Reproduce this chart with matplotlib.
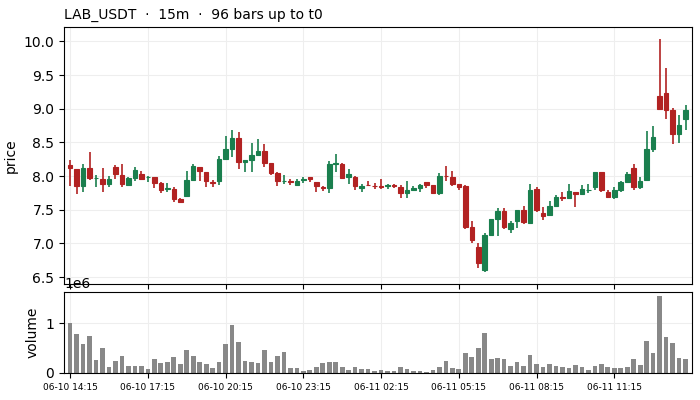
import matplotlib
matplotlib.use("Agg")
import matplotlib.pyplot as plt
import numpy as np

title = "LAB_USDT  ·  15m  ·  96 bars up to t0"

opens = [8.167, 8.103, 7.848, 8.123, 7.966, 7.960, 7.877, 8.132, 8.020, 7.873,
         7.975, 8.034, 7.985, 7.985, 7.897, 7.810, 7.810, 7.660, 7.700, 7.946,
         8.132, 8.060, 7.917, 7.920, 8.255, 8.400, 8.564, 8.210, 8.235, 8.310,
         8.370, 8.196, 8.050, 7.920, 7.920, 7.863, 7.936, 7.990, 7.910, 7.830,
         7.820, 8.180, 8.180, 7.980, 7.990, 7.820, 7.870, 7.855, 7.850, 7.855,
         7.860, 7.843, 7.745, 7.800, 7.829, 7.912, 7.873, 7.755, 8.005, 7.990,
         7.887, 7.848, 7.245, 6.946, 6.608, 7.123, 7.358, 7.480, 7.216, 7.330,
         7.490, 7.300, 7.810, 7.446, 7.420, 7.550, 7.690, 7.670, 7.770, 7.730,
         7.790, 7.833, 8.064, 7.770, 7.686, 7.800, 7.917, 8.123, 7.833, 7.936,
         8.400, 9.186, 9.230, 8.980, 8.624, 8.840]
highs = [8.240, 8.110, 8.176, 8.358, 8.010, 8.118, 8.000, 8.167, 8.176, 7.985,
         8.132, 8.070, 8.000, 7.985, 7.907, 7.890, 7.830, 7.670, 8.078, 8.180,
         8.132, 8.060, 7.936, 8.300, 8.590, 8.678, 8.660, 8.235, 8.490, 8.550,
         8.470, 8.196, 8.063, 8.015, 7.956, 7.960, 7.985, 7.990, 7.910, 7.858,
         8.225, 8.330, 8.196, 8.108, 8.000, 7.887, 7.926, 7.897, 7.956, 7.887,
         7.887, 7.868, 7.926, 7.853, 7.877, 7.912, 7.873, 8.044, 8.147, 8.078,
         7.887, 7.863, 7.333, 7.000, 7.152, 7.358, 7.520, 7.530, 7.330, 7.490,
         7.554, 7.877, 7.830, 7.534, 7.630, 7.725, 7.770, 7.880, 7.770, 7.863,
         7.880, 8.064, 8.064, 7.790, 7.833, 7.926, 8.054, 8.176, 7.985, 8.663,
         8.750, 10.040, 9.600, 9.010, 8.900, 9.060]
lows = [7.853, 7.735, 7.760, 7.936, 7.840, 7.765, 7.840, 7.956, 7.840, 7.860,
        7.926, 7.946, 7.907, 7.820, 7.750, 7.760, 7.613, 7.613, 7.690, 7.936,
        7.926, 7.840, 7.840, 7.868, 8.245, 8.280, 8.100, 8.060, 8.060, 8.310,
        8.130, 8.015, 7.853, 7.880, 7.870, 7.850, 7.900, 7.907, 7.765, 7.780,
        7.750, 8.060, 7.950, 7.880, 7.790, 7.765, 7.848, 7.810, 7.810, 7.810,
        7.820, 7.670, 7.670, 7.790, 7.770, 7.820, 7.750, 7.716, 7.926, 7.858,
        7.800, 7.220, 7.010, 6.640, 6.570, 7.108, 7.113, 7.220, 7.147, 7.235,
        7.294, 7.285, 7.470, 7.350, 7.407, 7.540, 7.630, 7.657, 7.540, 7.716,
        7.750, 7.800, 7.760, 7.670, 7.657, 7.765, 7.910, 7.790, 7.810, 7.920,
        8.350, 8.980, 8.850, 8.470, 8.485, 8.690]
closes = [8.113, 7.848, 8.123, 7.966, 7.970, 7.877, 7.960, 8.025, 7.877, 7.975,
          8.093, 7.960, 7.990, 7.892, 7.800, 7.815, 7.658, 7.620, 7.946, 8.152,
          8.070, 7.920, 7.890, 8.255, 8.400, 8.564, 8.210, 8.235, 8.310, 8.370,
          8.196, 8.050, 7.920, 7.930, 7.905, 7.927, 7.960, 7.950, 7.850, 7.826,
          8.180, 8.190, 7.966, 8.030, 7.848, 7.858, 7.865, 7.850, 7.843, 7.860,
          7.855, 7.745, 7.794, 7.829, 7.868, 7.873, 7.755, 8.005, 8.000, 7.887,
          7.843, 7.245, 7.054, 6.710, 7.123, 7.358, 7.480, 7.240, 7.300, 7.490,
          7.314, 7.800, 7.490, 7.407, 7.550, 7.686, 7.670, 7.785, 7.730, 7.810,
          7.800, 8.064, 7.800, 7.686, 7.800, 7.917, 8.034, 7.833, 7.930, 8.400,
          8.580, 8.995, 8.980, 8.624, 8.757, 8.980]
volumes = [1.000, 0.785, 0.584, 0.745, 0.262, 0.503, 0.121, 0.242, 0.342, 0.141,
           0.141, 0.141, 0.080, 0.282, 0.201, 0.221, 0.322, 0.181, 0.463, 0.342,
           0.221, 0.181, 0.100, 0.221, 0.584, 0.966, 0.624, 0.242, 0.221, 0.201,
           0.463, 0.221, 0.342, 0.423, 0.100, 0.100, 0.040, 0.060, 0.121, 0.201,
           0.221, 0.221, 0.121, 0.060, 0.121, 0.080, 0.080, 0.040, 0.060, 0.040,
           0.040, 0.121, 0.080, 0.040, 0.040, 0.020, 0.060, 0.121, 0.242, 0.100,
           0.080, 0.403, 0.322, 0.503, 0.805, 0.282, 0.295, 0.282, 0.141, 0.221,
           0.141, 0.362, 0.181, 0.121, 0.181, 0.141, 0.121, 0.100, 0.161, 0.121,
           0.060, 0.141, 0.181, 0.121, 0.100, 0.100, 0.121, 0.282, 0.161, 0.644,
           0.403, 1.550, 0.725, 0.604, 0.302, 0.282]
volumes = [v * 1e6 for v in volumes]

tick_positions = [0, 12, 24, 36, 48, 60, 72, 84]
tick_labels = ["06-10 14:15", "06-10 17:15", "06-10 20:15", "06-10 23:15",
               "06-11 02:15", "06-11 05:15", "06-11 08:15", "06-11 11:15"]

UP = "#1a7f4e"
DOWN = "#b22222"

fig = plt.figure(figsize=(7, 4), dpi=100)
ax = fig.add_axes([0.0914, 0.29, 0.8972, 0.6425])
axv = fig.add_axes([0.0914, 0.0675, 0.8972, 0.2025], sharex=ax)

x = np.arange(len(opens))
o = np.array(opens); h = np.array(highs); l = np.array(lows); c = np.array(closes)
colors = [UP if cc >= oo else DOWN for oo, cc in zip(o, c)]

ax.vlines(x, l, h, colors=colors, linewidth=1.2, zorder=2)
ax.bar(x, np.abs(c - o), bottom=np.minimum(o, c), width=0.7, color=colors,
       edgecolor=colors, linewidth=0.8, zorder=3)

axv.bar(x, volumes, width=0.72, color="#888888", zorder=2)

for a in (ax, axv):
    a.grid(True, color="#eeeeee", linewidth=0.8, zorder=0)
    a.set_axisbelow(True)

ax.set_xlim(-0.95, 96.0)
ax.set_ylabel("price")
axv.set_ylabel("volume")
ax.set_xticks(tick_positions)
axv.set_xticks(tick_positions)
axv.set_xticklabels(tick_labels, fontsize=6.5)
plt.setp(ax.get_xticklabels(), visible=False)
ax.set_yticks([6.5, 7.0, 7.5, 8.0, 8.5, 9.0, 9.5, 10.0])
ax.set_title(title, loc="left", fontsize=10, pad=6)

fig.savefig("out.png", dpi=100)
